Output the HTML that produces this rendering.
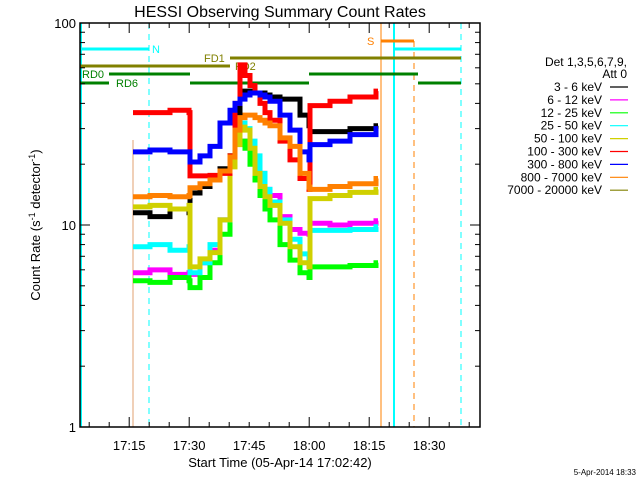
<!DOCTYPE html>
<html><head><meta charset="utf-8"><style>
body{margin:0;background:#fff}
svg{display:block;font-family:"Liberation Sans",sans-serif}
</style></head><body>
<svg id="c" width="640" height="480"></svg>
<script>
const times=[13.25,17.5,22.5,27.25,27.5,30,32.5,35,37.5,38.75,40,41.25,42.5,43.75,45,46.25,47.5,50,52.5,55,57.25,57.5,62.5,67.5,74];
const s3_6=[11.5,11,12,11.5,14.4,15.5,17,19,22,30,44,46,45,45,45,44,43,42,42,35,31,29,29,30,31];
const s6_12=[5.8,6,5.7,5.8,5.7,6.5,7.5,10.6,21.7,26,26,25,23,21,18,15,14,11,9.5,9.1,9,10.2,10,10.2,10.5];
const s12_25=[5.3,5.2,5.5,5.3,4.9,5.5,6.5,9,22,27,26,24,20,16.7,14,12,10.6,8,6.7,5.8,5.5,6.2,6.2,6.3,6.5];
const s25_50=[7.8,8,7.5,7.8,5.8,6.5,8,10.6,20,26,32,30,26,22,18,15,13,10.6,8.5,7.2,6.7,9.4,9.4,9.5,9.8];
const s50_100=[12.3,12.5,12,12.5,6.2,6.8,7.3,10.6,19.4,25,30.5,29.5,24,18,15.5,13.8,12.5,10.2,7.8,6.5,6.2,13.5,14,14.5,15];
const s100_300=[36,36,37,36,17.5,17.5,17.6,18,22,40,62,55,49,45,40,36,33,26,21,17,15,39,41,43,46];
const s300_800=[23,23.5,23,23,20.5,22,24.5,32,37,40,42,44,45,45,44,43,41,35,29.5,23,21,25,26,28,30];
const s800_7000=[13.8,14,13.8,14,15.3,16,16.7,18.5,21.7,29.5,34,35,35,34,33,32,31,27,24.5,18,15.4,15,15.5,16,17];
const legendLabels=["3 - 6 keV","6 - 12 keV","12 - 25 keV","25 - 50 keV","50 - 100 keV","100 - 300 keV","300 - 800 keV","800 - 7000 keV","7000 - 20000 keV"];
const legendColors=["#000","#ff00ff","#00ff00","#00ffff","#d0d000","#ff0000","#0000ff","#ff8000","#808000"];
const xTickLabels=["17:15","17:30","17:45","18:00","18:15","18:30"];
const xTickMin=[12.3,27.3,42.3,57.3,72.3,87.3];
const yTickVals=[1,10,100];

const X0=80,X1=480,Y0=427,Y1=23;
const xs=t=>X0+t*4;
const ys=v=>Y0-Math.log10(v)*(Y0-Y1)/2;
const svg=document.getElementById('c');
const NS="http://www.w3.org/2000/svg";
function el(tag,attrs,parent){const e=document.createElementNS(NS,tag);for(const k in attrs)e.setAttribute(k,attrs[k]);(parent||svg).appendChild(e);return e;}
function txt(x,y,s,attrs){const t=el('text',Object.assign({x:x,y:y,'font-size':13},attrs||{}));t.textContent=s;return t;}

let t=txt(280,17,"HESSI Observing Summary Count Rates",{'text-anchor':'middle','font-size':16});


let v;
v=el('line',{x1:81,y1:23,x2:81,y2:427,stroke:'#00ffff','stroke-width':2});
v=el('line',{x1:133,y1:140,x2:133,y2:427,stroke:'#e0a070','stroke-width':1});
v=el('line',{x1:149,y1:23,x2:149,y2:427,stroke:'#00ffff','stroke-width':1,'stroke-dasharray':'6,5'});
v=el('line',{x1:381,y1:23,x2:381,y2:427,stroke:'#ff8000','stroke-width':1});
v=el('line',{x1:394,y1:23,x2:394,y2:427,stroke:'#00ffff','stroke-width':2});
v=el('line',{x1:414,y1:41,x2:414,y2:427,stroke:'#ff8000','stroke-width':1,'stroke-dasharray':'6,5'});
v=el('line',{x1:461,y1:23,x2:461,y2:427,stroke:'#00ffff','stroke-width':1,'stroke-dasharray':'6,5'});

const bars=[[80,149,49,'#00ffff'],[394,461,49,'#00ffff'],[381,414,41,'#ff8000'],[230,461,58,'#808000'],[80,230,66,'#808000'],[109,190,74,'#008000'],[309,418,74,'#008000'],[80,109,83,'#008000'],[190,309,83,'#008000'],[418,461,83,'#008000']];
bars.forEach(b=>{const l=el('line',{x1:b[0],y1:b[2],x2:b[1],y2:b[2],stroke:b[3],'stroke-width':3});

});
const flags=[[152,53,"N",'#00ffff'],[367,45,"S",'#ff8000'],[204,62,"FD1",'#808000'],[235,70,"FD2",'#808000'],[82,78,"RD0",'#008000'],[116,87,"RD6",'#008000']];
flags.forEach(f=>{const e=txt(f[0],f[1],f[2],{fill:f[3],'font-size':11});

});

const series=[[s3_6,'#000'],[s6_12,'#ff00ff'],[s12_25,'#00ff00'],[s25_50,'#00ffff'],[s50_100,'#d0d000'],[s100_300,'#ff0000'],[s300_800,'#0000ff'],[s800_7000,'#ff8000']];
const names=['series-3-6kev','series-6-12kev','series-12-25kev','series-25-50kev','series-50-100kev','series-100-300kev','series-300-800kev','series-800-7000kev'];
series.forEach((s,i)=>{let d='';
 for(let k=0;k<times.length;k++){const x=xs(times[k]),y=ys(s[0][k]);
  if(k===0)d+='M'+x+' '+y;else d+=' L'+x+' '+y;
  const nx=k<times.length-1?xs(times[k+1]):x+2;d+=' L'+nx+' '+y;}
 const p=el('path',{d:d,fill:'none',stroke:s[1],'stroke-width':5,'stroke-linejoin':'miter'});
 
 });

const fr=el('rect',{x:X0,y:Y1,width:X1-X0,height:Y0-Y1,fill:'none',stroke:'#000','stroke-width':1.5});

for(let dec=0;dec<2;dec++)for(let m=1;m<10;m++){const y=ys(m*Math.pow(10,dec));const len=m===1?10:5;
 el('line',{x1:X0,y1:y,x2:X0+len,y2:y,stroke:'#000'});el('line',{x1:X1,y1:y,x2:X1-len,y2:y,stroke:'#000'});}
yTickVals.forEach(vv=>{const e=txt(X0-4,ys(vv)+5,String(vv),{'text-anchor':'end'});

});
for(let m=2.3;m<100;m+=5){const x=xs(m);const major=Math.abs((m-12.3)%15)<0.01;const len=major?10:5;
 el('line',{x1:x,y1:Y0,x2:x,y2:Y0-len,stroke:'#000'});el('line',{x1:x,y1:Y1,x2:x,y2:Y1+len,stroke:'#000'});}
xTickLabels.forEach((s,i)=>{const e=txt(xs(xTickMin[i]),450,s,{'text-anchor':'middle'});

});
t=txt(280,467,"Start Time (05-Apr-14 17:02:42)",{'text-anchor':'middle'});

t=el('text',{x:0,y:0,'font-size':13,'text-anchor':'middle',transform:'translate(40,225) rotate(-90)'});
t.innerHTML='Count Rate (s<tspan baseline-shift="super" font-size="9">-1</tspan> detector<tspan baseline-shift="super" font-size="9">-1</tspan>)';


t=txt(627,66,"Det 1,3,5,6,7,9,",{'text-anchor':'end','font-size':12});
t=txt(627,78,"Att 0",{'text-anchor':'end','font-size':12});
legendLabels.forEach((s,i)=>{const y=91+i*12.9;
 const e=txt(602,y,s,{'text-anchor':'end','font-size':12});
 
 
 el('line',{x1:610,y1:y-4,x2:628,y2:y-4,stroke:legendColors[i],'stroke-width':1.2});});
t=txt(636,475,"5-Apr-2014 18:33",{'text-anchor':'end','font-size':8});

</script>
</body></html>
